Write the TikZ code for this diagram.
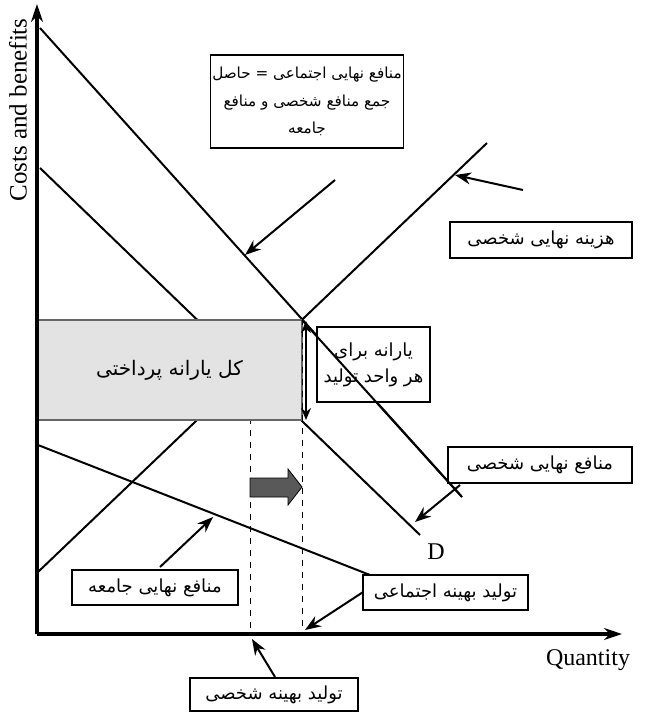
\documentclass[tikz,border=0pt]{standalone}
\usepackage{fontspec}
\setmainfont{Liberation Serif}
\newfontfamily\fa[Script=Arabic]{DejaVu Sans}
\TeXXeTstate=1
\usetikzlibrary{arrows.meta}
\newcommand{\fatext}[1]{{\fa\beginR #1\endR}}
\tikzset{
  curve/.style={line width=1pt},
  axis/.style={line width=1.6pt,-{Stealth[length=9pt,width=6pt]}},
  pointer/.style={line width=1pt,-{Stealth[length=8pt,width=6pt]}},
  labelbox/.style={draw,line width=0.6pt,fill=white,inner sep=1pt,
    font=\fontsize{9}{13}\selectfont,align=center},
  guide/.style={dashed,line width=0.5pt}
}

\begin{document}
\begin{tikzpicture}[x=0.5pt,y=-0.5pt]
  \useasboundingbox (0,0) rectangle (648,712);

  % key points
  \coordinate (origin) at (37,634);
  \coordinate (ytop) at (37,4);
  \coordinate (xend) at (622,634);
  \coordinate (social) at (302,320);
  \coordinate (private) at (250,370);
  \coordinate (socialq) at (302,634);
  \coordinate (privateq) at (250,634);

  % curves
  \coordinate (smbA) at (40,28);
  \coordinate (smbB) at (462,497);
  \coordinate (pmbA) at (40,168);
  \coordinate (pmbB) at (420,535);
  \coordinate (mcA) at (38,572);
  \coordinate (mcB) at (487,143);
  \coordinate (mebA) at (38,445);
  \coordinate (mebB) at (370,575);
  \draw[curve] (smbA) -- (smbB);
  \draw[curve] (pmbA) -- (pmbB);
  \draw[curve] (mcA) -- (mcB);
  \draw[curve] (mebA) -- (mebB);

  % guides
  \draw[guide] (private) -- (privateq);
  \draw[guide] (social) -- (socialq);

  % subsidy area
  \node (subsidy) [draw=gray!80!black,fill=gray!22,line width=0.6pt,
    minimum width=132.5pt,minimum height=50pt,inner sep=0pt,
    font=\fontsize{10}{12}\selectfont] at (169.5,370)
    {\fatext{کل یارانه پرداختی}};
  \draw[guide] (subsidy.north east) -- (subsidy.south east);
  \draw[line width=0.8pt,{Stealth[length=6pt,width=5pt]}-{Stealth[length=6pt,width=5pt]}]
    (306,321) -- (306,420);

  % shift arrow
  \draw[fill=gray!70!black,line width=0.4pt]
    (250,478) -- (288,478) -- (288,469) -- (302,487) -- (288,505)
    -- (288,497) -- (250,497) -- cycle;

  % axes
  \draw[axis] (origin) -- (ytop);
  \draw[axis] (origin) -- (xend);
  \node (ylabel) [rotate=90,font=\fontsize{12.5}{14}\selectfont] at (18,110) {Costs and benefits};
  \node (xlabel) [font=\fontsize{12}{14}\selectfont] at (588,660) {Quantity};
  \node (dlabel) [font=\fontsize{12}{14}\selectfont] at (436,552) {D};

  % labels
  \node (smbbox) [labelbox,minimum width=95pt,minimum height=46.5pt,
    font=\fontsize{7.6}{13.8}\selectfont] at (307,101.5)
    {\fatext{منافع نهایی اجتماعی = حاصل}\\ \fatext{جمع منافع شخصی و منافع}\\ \fatext{جامعه}};
  \node (mcbox) [labelbox,minimum width=91pt,minimum height=18pt] at (541,240)
    {\fatext{هزینه نهایی شخصی}};
  \node (pmbbox) [labelbox,minimum width=92pt,minimum height=18pt] at (540,465)
    {\fatext{منافع نهایی شخصی}};
  \node (mebbox) [labelbox,minimum width=83pt,minimum height=17.5pt] at (155,587.5)
    {\fatext{منافع نهایی جامعه}};
  \node (socbox) [labelbox,minimum width=82.5pt,minimum height=17.5pt] at (445.5,592.5)
    {\fatext{تولید بهینه اجتماعی}};
  \node (privbox) [labelbox,minimum width=84pt,minimum height=16.5pt] at (274,694.5)
    {\fatext{تولید بهینه شخصی}};
  \node (unitbox) [labelbox,minimum width=56.5pt,minimum height=37.5pt] at (373.5,364.5)
    {\fatext{یارانه برای}\\ \fatext{هر واحد تولید}};
  \draw[curve] (social) -- (smbB);

  % pointers
  \draw[pointer] (335,180) -- (245,255);
  \draw[pointer] (523,190) -- (455,175);
  \draw[pointer] (460,485) -- (415,522);
  \draw[pointer] (160,567) -- (213,517);
  \draw[pointer] (socbox.west) -- (305,630);
  \draw[pointer] (275,677) -- (252,639);
\end{tikzpicture}
\end{document}
